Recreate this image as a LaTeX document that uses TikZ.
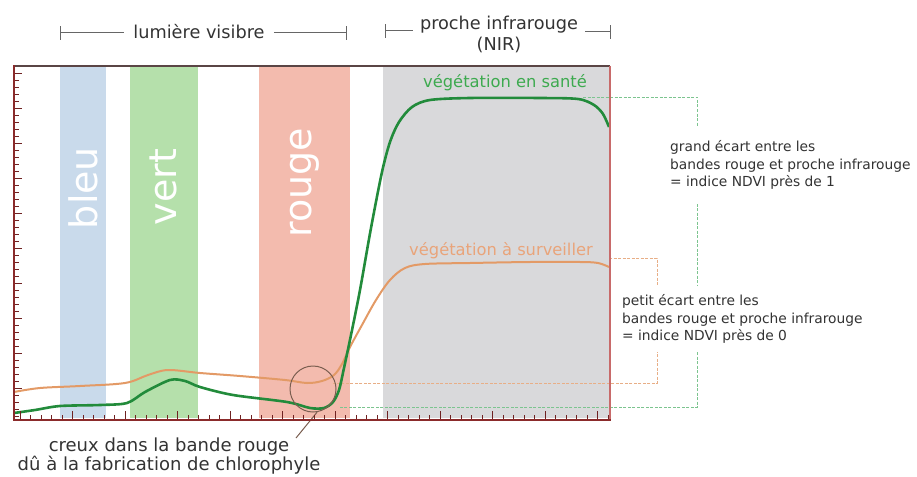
\documentclass[tikz,border=0pt]{standalone}
\usepackage{fontspec}
\setmainfont{DejaVu Sans}
\definecolor{bluebar}{HTML}{C9DAEB}
\definecolor{greenbar}{HTML}{B5E0AB}
\definecolor{redbar}{HTML}{F3BBAE}
\definecolor{nirbar}{HTML}{D9D9DB}
\definecolor{axisred}{HTML}{8B2B2B}
\definecolor{topborder}{HTML}{5A4545}
\definecolor{rightborder}{HTML}{C86A6A}
\definecolor{gcurve}{HTML}{228B3B}
\definecolor{ocurve}{HTML}{E39A66}
\definecolor{glabel}{HTML}{3DAA4F}
\definecolor{olabel}{HTML}{E9A47A}
\definecolor{gbracket}{HTML}{7CC48F}
\definecolor{obracket}{HTML}{E8AE86}
\definecolor{txtgray}{HTML}{333333}
\definecolor{brkgray}{HTML}{666666}
\definecolor{circgray}{HTML}{7A5E50}
\begin{document}
\begin{tikzpicture}[x=1pt,y=-1pt,
  bandlbl/.style={text=white, rotate=90, font=\fontsize{38}{40}\selectfont, inner sep=0pt},
  toplbl/.style={text=txtgray, font=\fontsize{17.7}{20}\selectfont, inner ysep=2pt},
  brk/.style={draw=brkgray, line width=1pt},
  curvelbl/.style={font=\fontsize{16.3}{18}\selectfont, inner sep=0pt},
  sidetxt/.style={text=txtgray, fill=white, align=left, font=\fontsize{13.8}{17.8}\selectfont, inner xsep=4pt},
  gbr/.style={draw=gbracket, line width=0.9pt, dash pattern=on 3pt off 1.5pt},
  obr/.style={draw=obracket, line width=0.9pt, dash pattern=on 3pt off 1.5pt},
  tickline/.style={draw=axisred!80!black, line width=0.7pt}]
\useasboundingbox (0,0) rectangle (917,476);

% bands
\fill[bluebar] (60,67) rectangle (106,418);
\fill[greenbar] (130,67) rectangle (198,418);
\fill[redbar] (259,67) rectangle (350,418);
\fill[nirbar] (383,67) rectangle (609,418);

\node[bandlbl, anchor=base] (bleu) at (97,188) {bleu};
\node[bandlbl, anchor=base] (vert) at (176,187) {vert};
\node[bandlbl, anchor=base] (rouge) at (311,183) {rouge};

% brackets to the right
\coordinate (gA) at (583,97);
\coordinate (gB) at (697,97);
\coordinate (gC) at (697,407);
\coordinate (gD) at (340,407);
\draw[gbr] (gA) -- (gB) -- (gC) -- (gD);
\coordinate (oA) at (609,258);
\coordinate (oB) at (657,258);
\coordinate (oC) at (657,383);
\coordinate (oD) at (333,383);
\draw[obr] (oA) -- (oB) -- (oC) -- (oD);

% curves
\draw[ocurve, line width=2pt, line join=round] plot[smooth, tension=0.55] coordinates {
 (14,392) (40,388) (80,386) (125,383) (148,375) (168,370) (200,373) (240,376)
 (285,380) (307,383) (322,381) (334,375) (342,364) (350,347) (362,325) (376,300)
 (390,280) (405,268) (425,264) (470,263) (530,262) (580,262) (598,263) (609,267)};
\draw[gcurve, line width=2.6pt, line join=round] plot[smooth, tension=0.5] coordinates {
 (14,413) (35,410) (60,406) (100,405) (127,403) (145,392) (170,380) (185,381)
 (200,387) (233,395) (287,402) (310,408) (324,408) (333,402) (339,390) (344,368)
 (351,335) (360,290) (371,228) (382,172) (390,142) (399,122) (412,107) (430,100)
 (470,98) (540,98) (578,99) (594,105) (603,114) (609,127)};

% circle and pointer
\node[circle, draw=circgray, line width=1pt, minimum size=46pt, inner sep=0pt] (dip) at (313,389) {};
\coordinate (dipend) at (296,438);
\draw[circgray, line width=1pt] (dip.-80) -- (dipend);

% frame
\draw[topborder, line width=1.8pt] (14,66) -- (610,66);
\draw[rightborder, line width=1.4pt] (610,66) -- (610,420);
\foreach \k in {0,...,49} {
  \pgfmathsetmacro{\yy}{73+7*\k}
  \pgfmathtruncatemacro{\mm}{mod(\k,5)}
  \ifnum\mm=0 \draw[tickline] (14,\yy) -- (22,\yy); \else \draw[tickline] (14,\yy) -- (19,\yy); \fi
}
\foreach \k in {0,...,56} {
  \pgfmathsetmacro{\xx}{20+10.5*\k}
  \pgfmathtruncatemacro{\mm}{mod(\k,5)}
  \ifnum\mm=0 \draw[tickline] (\xx,420) -- (\xx,411); \else \draw[tickline] (\xx,420) -- (\xx,415); \fi
}
\draw[axisred, line width=2pt, line cap=rect] (14,66) -- (14,420) -- (610,420);

% curve labels
\node[curvelbl, text=glabel, anchor=base] (lsante) at (505,88) {végétation en santé};
\node[curvelbl, text=olabel, anchor=base] (lsurv) at (501,255) {végétation à surveiller};

% side texts
\node[sidetxt, anchor=west, inner ysep=14pt] (grand) at (666,165)
  {grand écart entre les\\bandes rouge et proche infrarouge\\= indice NDVI près de 1};
\node[sidetxt, anchor=west, inner ysep=8pt] (petit) at (618,319)
  {petit écart entre les\\bandes rouge et proche infrarouge\\= indice NDVI près de 0};

% top labels
\node[toplbl, anchor=base, inner xsep=9pt] (vis) at (199,39) {lumière visibre};
\coordinate (visL) at (60,33);
\coordinate (visR) at (346,33);
\draw[brk] (visL) -- (vis.west |- visL);
\draw[brk] (vis.east |- visR) -- (visR);
\draw[brk] ([yshift=-7pt]visL) -- ([yshift=7pt]visL);
\draw[brk] ([yshift=-7pt]visR) -- ([yshift=7pt]visR);

\node[toplbl, anchor=base, inner xsep=7pt] (nir) at (499,30) {proche infrarouge};
\node[toplbl, anchor=base] (nirb) at (499,51) {(NIR)};
\coordinate (nirL) at (385,31);
\coordinate (nirR) at (610,32);
\draw[brk] (nirL) -- (nir.west |- nirL);
\draw[brk] (nir.east |- nirR) -- (nirR);
\draw[brk] ([yshift=-7pt]nirL) -- ([yshift=7pt]nirL);
\draw[brk] ([yshift=-7pt]nirR) -- ([yshift=7pt]nirR);

% bottom text
\node[text=txtgray, align=center, font=\fontsize{18}{19.5}\selectfont] (creux) at (169,456)
  {creux dans la bande rouge\\dû à la fabrication de chlorophyle};
\end{tikzpicture}
\end{document}
